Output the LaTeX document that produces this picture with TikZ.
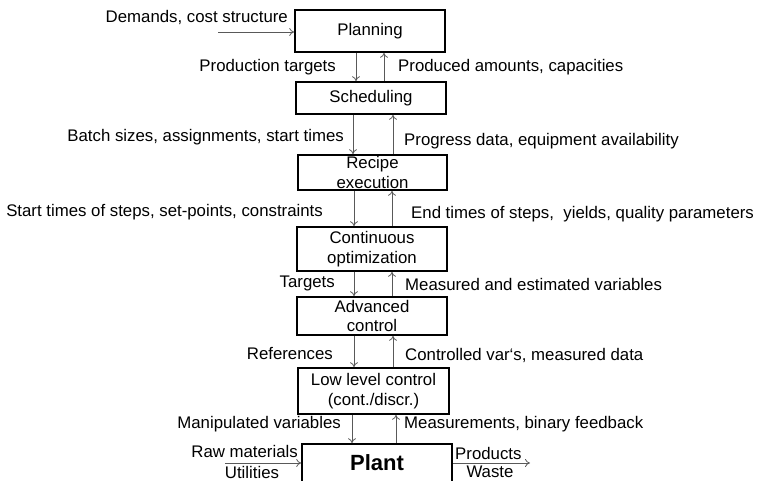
\documentclass[tikz,border=0pt]{standalone}
\usepackage{fontspec}
\setmainfont{Liberation Sans}
\usetikzlibrary{arrows.meta}
\begin{document}
\begin{tikzpicture}[x=1pt, y=-1pt,
    font=\fontsize{16.8}{18}\selectfont,
    box/.style={draw, line width=1.6pt, align=center, inner sep=0pt,
      font=\fontsize{16.8}{19.5}\selectfont},
    flow/.style={draw=black!65, line width=0.8pt, -{To[length=5pt, width=8pt]}},
    lbl/.style={inner sep=0pt}]
    \useasboundingbox (0,0) rectangle (758,481);
    % levels of the hierarchy
    \node[box, minimum width=150, minimum height=42] (plan)   at (370,31)     {Planning};
    \node[box, minimum width=150, minimum height=32] (sched)  at (371,98)     {Scheduling};
    \node[box, minimum width=149, minimum height=35] (recipe) at (372.5,172.5) {Recipe\\execution};
    \node[box, minimum width=150, minimum height=44] (cont)   at (372,249)    {Continuous\\optimization};
    \node[box, minimum width=150, minimum height=38] (adv)    at (372,316)    {Advanced\\control};
    \node[box, minimum width=151, minimum height=46] (low)    at (373.5,391)  {Low level control\\(cont./discr.)};
    \node[box, minimum width=150, minimum height=38, font=\fontsize{22}{24}\selectfont\bfseries] (plant) at (377,463) {Plant};
    % down / up arrows between levels
    \foreach \a/\b/\dx/\ux in {plan/sched/356/384, sched/recipe/353/393, recipe/cont/354/392,
                               cont/adv/354/392, adv/low/354/393, low/plant/352/396} {
      \draw[flow] (\a.south -| \dx,0) -- (\b.north -| \dx,0);
      \draw[flow] (\b.north -| \ux,0) -- (\a.south -| \ux,0);
    }
    % signals going down
    \node[lbl, anchor=east] (tgt)  at (336,67)  {Production targets};
    \node[lbl, anchor=east] (bat)  at (344,137) {Batch sizes, assignments, start times};
    \node[lbl, anchor=east] (stt)  at (323,212) {Start times of steps, set-points, constraints};
    \node[lbl, anchor=east] (tgs)  at (335,283) {Targets};
    \node[lbl, anchor=east] (ref)  at (333,354) {References};
    \node[lbl, anchor=east] (man)  at (341,424) {Manipulated variables};
    % signals going up
    \node[lbl, anchor=west] (prd)  at (398,67)  {Produced amounts, capacities};
    \node[lbl, anchor=west] (prg)  at (404,141) {Progress data, equipment availability};
    \node[lbl, anchor=west] (endt) at (411,214) {End times of steps,~ yields, quality parameters};
    \node[lbl, anchor=west] (mea)  at (405,284) {Measured and estimated variables};
    \node[lbl, anchor=west] (ctl)  at (405,355) {Controlled var‘s, measured data};
    \node[lbl, anchor=west] (meb)  at (404,424) {Measurements, binary feedback};
    % inputs and outputs
    \node[lbl, anchor=east] (dem) at (288,17) {Demands, cost structure};
    \coordinate (demin) at (218,32);
    \draw[flow] (demin) -- (demin -| plan.west);
    \node[lbl, anchor=east] (raw) at (298,451) {Raw materials};
    \node[lbl] (uti) at (252,472) {Utilities};
    \coordinate (rawin) at (225,463);
    \draw[flow] (rawin) -- (rawin -| plant.west);
    \node[lbl, anchor=west] (prod) at (455,453) {Products};
    \node[lbl] (was) at (490,472) {Waste};
    \coordinate (prodout) at (530,463);
    \draw[flow] (prodout -| plant.east) -- (prodout);
  \end{tikzpicture}
\end{document}
